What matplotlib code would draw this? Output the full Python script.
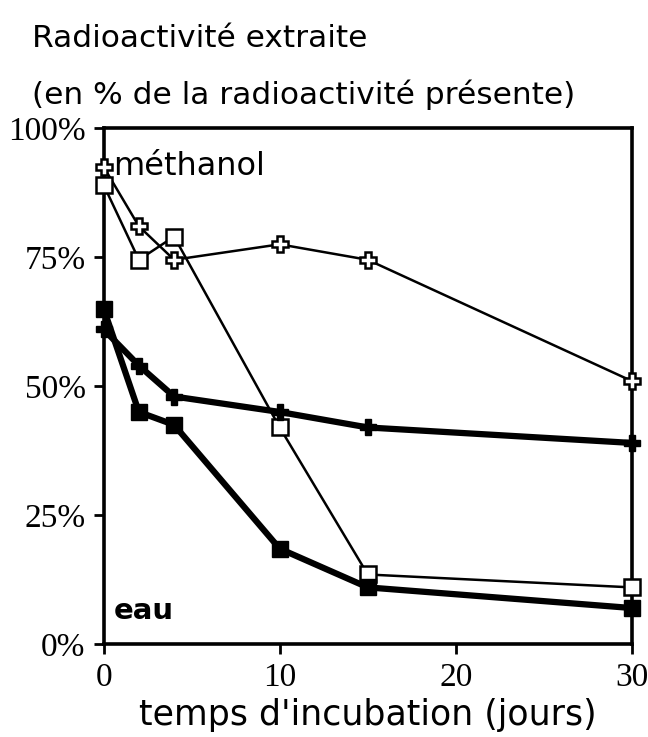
import matplotlib.pyplot as plt

# incubation time (days)
jours = [0, 2, 4, 10, 15, 30]

# % radioactivity extracted
methanol_croix = [92.5, 81, 74.5, 77.5, 74.5, 51]
methanol_carre = [89, 74.5, 79, 42, 13.5, 11]
eau_croix = [61, 54, 48, 45, 42, 39]
eau_carre = [65, 45, 42.5, 18.5, 11, 7]

yticks = [0, 25, 50, 75, 100]
ytick_labels = ["0%", "25%", "50%", "75%", "100%"]
xticks = [0, 10, 20, 30]

sans = "DejaVu Sans"
serif = "Liberation Serif"

fig = plt.figure(figsize=(6.48, 7.37), dpi=100)
ax = fig.add_axes([0.160, 0.126, 0.815, 0.700])

ax.plot(jours, methanol_croix, color="black", lw=1.8, marker="P", ms=11,
        mfc="white", mec="black", mew=1.8, clip_on=False, zorder=3)
ax.plot(jours, methanol_carre, color="black", lw=1.8, marker="s", ms=12,
        mfc="white", mec="black", mew=1.8, clip_on=False, zorder=3)
ax.plot(jours, eau_croix, color="black", lw=4.5, marker="P", ms=11,
        mfc="black", mec="black", clip_on=False, zorder=4)
ax.plot(jours, eau_carre, color="black", lw=4.5, marker="s", ms=12,
        mfc="black", mec="black", clip_on=False, zorder=4)

ax.set_xlim(0, 30)
ax.set_ylim(0, 100)
ax.set_xticks(xticks)
ax.set_yticks(yticks)
ax.set_yticklabels(ytick_labels)
ax.tick_params(axis="both", direction="out", length=7, width=2,
               labelsize=24, labelfontfamily=serif)
ax.tick_params(axis="y", pad=6)
ax.tick_params(axis="x", pad=6)
for s in ax.spines.values():
    s.set_linewidth(2.6)

ax.text(0.55, 92.5, "méthanol", fontsize=23, family=sans, va="center", ha="left")
ax.text(0.55, 6.5, "eau", fontsize=21, family=sans, fontweight="bold", va="center", ha="left")

fig.text(0.05, 0.948, "Radioactivité extraite", fontsize=22.5, family=sans, va="center")
fig.text(0.05, 0.871, "(en % de la radioactivité présente)", fontsize=22.5, family=sans, va="center")
ax.set_xlabel("temps d'incubation (jours)", fontsize=25, family=sans, labelpad=4)

fig.savefig("out.png", dpi=100)
